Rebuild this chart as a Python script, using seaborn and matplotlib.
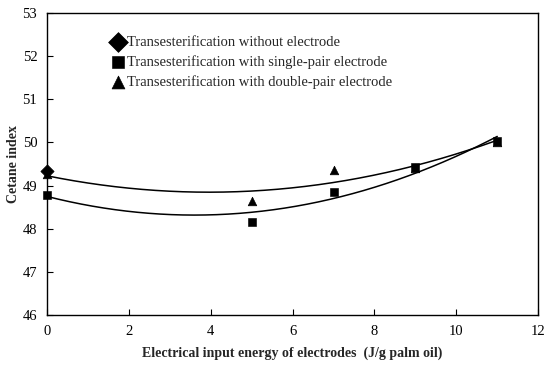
import numpy as np
import pandas as pd
import matplotlib
matplotlib.use("Agg")
import matplotlib.pyplot as plt
import seaborn as sns

# data
energy = [0, 5, 7, 9, 11]
no_electrode_x = [0]
no_electrode = [49.33]
single_pair = [48.79, 48.15, 48.86, 49.42, 50.03]
double_pair = [49.26, 48.63, 49.37, 49.40, 50.02]

sns.set_style("ticks")
plt.rcParams['font.family'] = ['Liberation Serif', 'DejaVu Serif']
plt.rcParams['xtick.direction'] = 'in'
plt.rcParams['ytick.direction'] = 'in'

fig = plt.figure(figsize=(5.5, 3.68), dpi=100)
ax = fig.add_axes([0.0855, 0.144, 0.893, 0.821])

# quadratic trend lines
xs = np.linspace(0, 11, 200)
for ys in (single_pair, double_pair):
    coef = np.polyfit(energy, ys, 2)
    ax.plot(xs, np.polyval(coef, xs), color='black', lw=1.1, zorder=2)

sns.scatterplot(x=no_electrode_x, y=no_electrode, marker='D', s=45, color='black',
                edgecolor='black', ax=ax, zorder=4, clip_on=False,
                label='Transesterification without electrode')
sns.scatterplot(x=energy, y=single_pair, marker='s', s=28, color='black',
                edgecolor='black', ax=ax, zorder=3, clip_on=False,
                label='Transesterification with single-pair electrode')
sns.scatterplot(x=energy, y=double_pair, marker='^', s=38, color='black',
                edgecolor='black', ax=ax, zorder=3, clip_on=False,
                label='Transesterification with double-pair electrode')

ax.set_xlim(0, 12)
ax.set_ylim(46, 53)
ax.set_xticks(range(0, 13, 2))
ax.set_yticks(range(46, 54))
ax.tick_params(labelsize=10.5, length=4, width=0.8, colors='black', pad=7)
for s in ax.spines.values():
    s.set_linewidth(1.0)
    s.set_color('black')

ax.set_xlabel('Electrical input energy of electrodes  (J/g palm oil)',
              fontsize=10, fontweight='bold', labelpad=6)
ax.set_ylabel('Cetane index', fontsize=10, fontweight='bold', labelpad=2)

leg = ax.legend(loc='upper left', bbox_to_anchor=(0.115, 0.945), frameon=False,
                fontsize=10.5, handletextpad=0.0, borderaxespad=0, labelspacing=0.45,
                handlelength=1.2, markerscale=1.5)

fig.savefig('out.png', dpi=100)
